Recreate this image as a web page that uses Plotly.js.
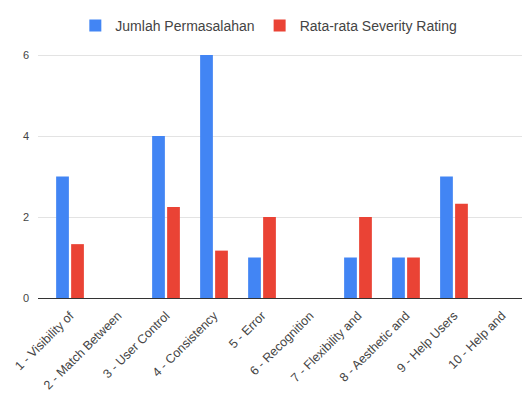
<!DOCTYPE html>
<html>
<head>
<meta charset="utf-8">
<script src="https://cdn.plot.ly/plotly-3.0.1.min.js"></script>
<style>html,body{margin:0;padding:0;background:#fff;}#chart{width:522px;height:396px;}</style>
</head>
<body>
<div id="chart"></div>
<script>
var categories = ["1 - Visibility of", "2 - Match Between", "3 - User Control", "4 - Consistency", "5 - Error", "6 - Recognition", "7 - Flexibility and", "8 - Aesthetic and", "9 - Help Users", "10 - Help and"];
var jumlahPermasalahan = [3, 0, 4, 6, 1, 0, 1, 1, 3, 0];
var rataSeverity = [1.33, 0, 2.25, 1.17, 2, 0, 2, 1, 2.33, 0];
var seriesNames = ["Jumlah Permasalahan", "Rata-rata Severity Rating"];
var yTicks = [0, 2, 4, 6];

var font = "Liberation Sans, Arial, sans-serif";
var data = [
  {type: "bar", x: categories, y: jumlahPermasalahan, name: seriesNames[0], marker: {color: "#4285F4"}},
  {type: "bar", x: categories, y: rataSeverity, name: seriesNames[1], marker: {color: "#EA4335"}}
];
var layout = {
  width: 522, height: 396,
  margin: {l: 38, r: 0, t: 53, b: 98},
  paper_bgcolor: "#fff", plot_bgcolor: "#fff",
  barmode: "group", bargap: 0.375, bargroupgap: 0.15,
  font: {family: font, size: 11, color: "#444"},
  showlegend: true,
  legend: {orientation: "h", x: 0.515, xref: "container", xanchor: "center", y: 0.975, yref: "container", yanchor: "top",
           font: {family: font, size: 14, color: "#444"}, itemwidth: 30, tracegroupgap: 0},
  xaxis: {type: "category", range: [-0.667, 9.417], tickangle: -45, showgrid: false, showline: false, zeroline: false,
          ticks: "", ticklabelstandoff: 7, tickfont: {family: font, size: 12.5, color: "#444"}},
  yaxis: {range: [0, 6.05], tickvals: yTicks, ticktext: yTicks.map(String), showgrid: true, gridcolor: "#e3e3e3",
          zeroline: true, zerolinecolor: "#333", zerolinewidth: 1, ticks: "", ticklabelstandoff: 8,
          tickfont: {family: font, size: 11, color: "#444"}}
};
Plotly.newPlot("chart", data, layout, {staticPlot: true, displayModeBar: false});
</script>
</body>
</html>
